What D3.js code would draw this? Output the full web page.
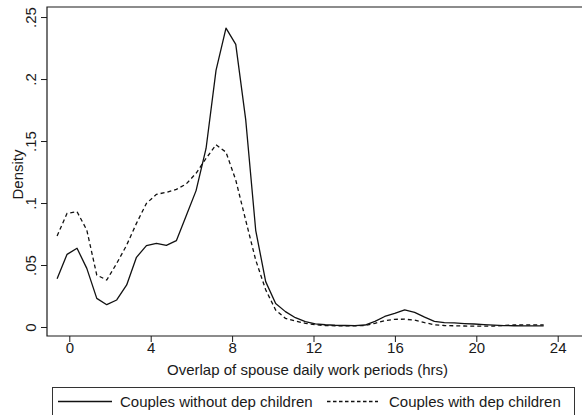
<!DOCTYPE html>
<html>
<head>
<meta charset="utf-8">
<script src="https://cdn.jsdelivr.net/npm/d3@7"></script>
<style>
  html, body { margin: 0; padding: 0; background: #fff; }
  svg { display: block; }
  text { font-family: "Liberation Sans", Arial, Helvetica, sans-serif; fill: #1a1a1a; }
</style>
</head>
<body>
<svg id="chart" width="582" height="415"></svg>
<script>
// Evaluation grid (hours)
const hours = [-0.6, -0.11, 0.38, 0.86, 1.35, 1.84, 2.33, 2.82, 3.30, 3.79,
  4.28, 4.77, 5.26, 5.74, 6.23, 6.72, 7.21, 7.70, 8.18, 8.67,
  9.16, 9.65, 10.14, 10.62, 11.11, 11.60, 12.09, 12.58, 13.06, 13.55,
  14.04, 14.53, 15.02, 15.50, 15.99, 16.48, 16.97, 17.46, 17.94, 18.43,
  18.92, 19.41, 19.90, 20.38, 20.87, 21.36, 21.85, 22.34, 22.82, 23.31];

// Couples without dependent children (solid)
const withoutKids = [0.039, 0.0586, 0.0635, 0.0473, 0.0231, 0.018, 0.0218, 0.0339, 0.0562, 0.0656,
  0.0675, 0.0659, 0.0696, 0.0895, 0.110, 0.144, 0.207, 0.241, 0.228, 0.167,
  0.078, 0.0366, 0.019, 0.0124, 0.0075, 0.0043, 0.0026, 0.0018, 0.0014, 0.0012,
  0.0011, 0.0016, 0.0045, 0.0085, 0.011, 0.0138, 0.0118, 0.008, 0.0045, 0.0035,
  0.0033, 0.0028, 0.0024, 0.0019, 0.0015, 0.0011, 0.001, 0.0009, 0.0009, 0.0009];

// Couples with dependent children (dashed)
const withKids = [0.0734, 0.0917, 0.093, 0.0782, 0.0419, 0.0379, 0.0513, 0.0661, 0.0836, 0.0997,
  0.107, 0.1086, 0.111, 0.1153, 0.124, 0.136, 0.147, 0.141, 0.1185, 0.086,
  0.054, 0.030, 0.0137, 0.007, 0.0048, 0.003, 0.0018, 0.0012, 0.001, 0.0009,
  0.0009, 0.0012, 0.003, 0.0052, 0.0062, 0.0063, 0.0055, 0.0035, 0.0018, 0.0012,
  0.001, 0.0008, 0.0007, 0.0007, 0.0008, 0.0012, 0.0016, 0.0017, 0.0017, 0.0017];

const xTicks = [0, 4, 8, 12, 16, 20, 24];
const yTicks = [0, 0.05, 0.1, 0.15, 0.2, 0.25];
const yTickLabels = ["0", ".05", ".1", ".15", ".2", ".25"];
const seriesNames = ["Couples without dep children", "Couples with dep children"];

(function () {
const svg = d3.select("#chart");
const plotLeft = 47, plotTop = 7, plotBottom = 336;
const fs = "15px";

const x = d3.scaleLinear().domain([-1.096, 26]).range([plotLeft, 598.4]);
const y = d3.scaleLinear().domain([-0.00726, 0.2581]).range([plotBottom, plotTop]);

// Frame (left, top, bottom; right side falls outside the picture)
svg.append("path")
  .attr("d", `M${x(26)},${plotTop}H${plotLeft}V${plotBottom}H${x(26)}`)
  .attr("fill", "none").attr("stroke", "#1a1a1a").attr("stroke-width", 1.2);

// Y axis
const yAxis = svg.append("g").attr("transform", `translate(${plotLeft},0)`)
  .call(d3.axisLeft(y).tickValues(yTicks).tickSize(6).tickSizeOuter(0)
    .tickFormat((d, i) => yTickLabels[i]));
yAxis.select(".domain").remove();
yAxis.selectAll(".tick line").attr("stroke", "#1a1a1a");
yAxis.selectAll(".tick text")
  .attr("transform", "rotate(-90)")
  .attr("x", 0).attr("y", -11.5).attr("dy", 0)
  .attr("text-anchor", "middle")
  .style("font-size", fs);
yAxis.attr("font-family", null).attr("font-size", null);

// X axis
const xAxis = svg.append("g").attr("transform", `translate(0,${plotBottom})`)
  .call(d3.axisBottom(x).tickValues(xTicks).tickSize(6).tickSizeOuter(0)
    .tickFormat(d3.format("d")));
xAxis.select(".domain").remove();
xAxis.selectAll(".tick line").attr("stroke", "#1a1a1a");
xAxis.selectAll(".tick text")
  .attr("y", 16.5).attr("dy", 0)
  .style("font-size", fs);
xAxis.attr("font-family", null).attr("font-size", null);

// Axis titles
svg.append("text").attr("x", 307.5).attr("y", 374.5)
  .attr("text-anchor", "middle").style("font-size", fs)
  .text("Overlap of spouse daily work periods (hrs)");
svg.append("text")
  .attr("transform", `translate(22.5,${(plotTop + plotBottom) / 2 + 3}) rotate(-90)`)
  .attr("text-anchor", "middle").style("font-size", fs)
  .text("Density");

// Lines
const line = d3.line().x((d, i) => x(hours[i])).y(d => y(d));
svg.append("path").datum(withoutKids).attr("d", line)
  .attr("fill", "none").attr("stroke", "#111").attr("stroke-width", 1.3)
  .attr("stroke-linejoin", "round");
svg.append("path").datum(withKids).attr("d", line)
  .attr("fill", "none").attr("stroke", "#111").attr("stroke-width", 1.3)
  .attr("stroke-dasharray", "4,3");

// Legend
const lg = svg.append("g");
lg.append("rect").attr("x", 52.5).attr("y", 387.5).attr("width", 522).attr("height", 40)
  .attr("fill", "#fff").attr("stroke", "#333").attr("stroke-width", 1);
lg.append("line").attr("x1", 58).attr("x2", 112).attr("y1", 401.5).attr("y2", 401.5)
  .attr("stroke", "#111").attr("stroke-width", 1.3);
lg.append("text").attr("x", 120).attr("y", 407).style("font-size", fs).text(seriesNames[0]);
lg.append("line").attr("x1", 327).attr("x2", 378).attr("y1", 401.5).attr("y2", 401.5)
  .attr("stroke", "#111").attr("stroke-width", 1.3).attr("stroke-dasharray", "3.5,2.5");
lg.append("text").attr("x", 389).attr("y", 407).style("font-size", fs).text(seriesNames[1]);
})();
</script>
</body>
</html>
